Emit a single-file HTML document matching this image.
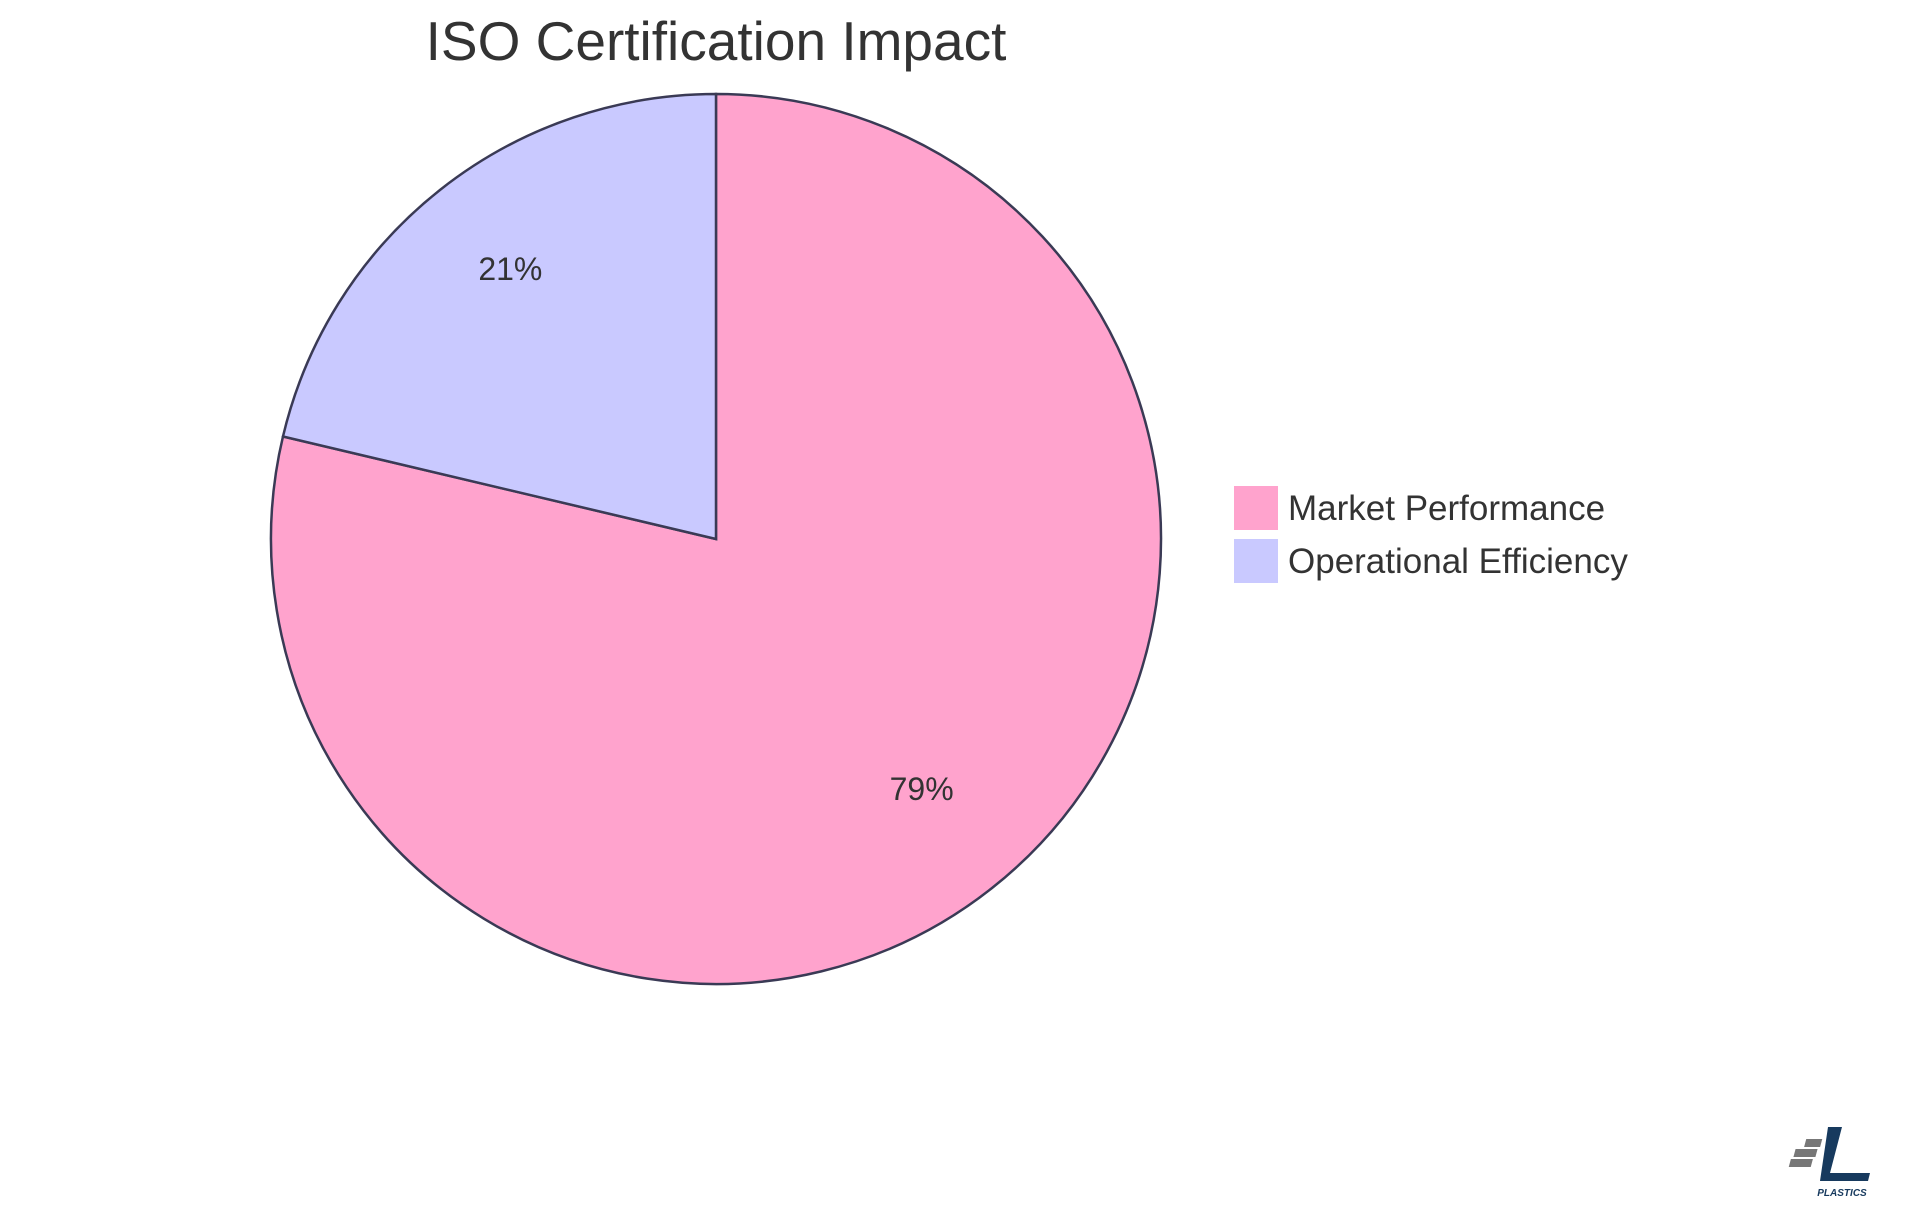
<!DOCTYPE html>
<html><head><meta charset="utf-8"><style>
html,body{margin:0;padding:0;background:#fff;}
svg{display:block;font-family:"Liberation Sans",sans-serif;}
</style></head><body>
<svg id="chart" width="1920" height="1215" viewBox="0 0 1920 1215">
<text x="716" y="60" text-anchor="middle" font-size="55" fill="#333">ISO Certification Impact</text>
<g id="slices"></g>
<g id="labels"></g>
<g id="legend"></g>
<g transform="translate(1800,1125)">
<path d="M28 2 L42 2 L30 48 L70 48 L68 56 L20 56 Z" fill="#173a5e"/>
<rect x="2" y="24" width="22" height="8" fill="#777" transform="skewX(-15)"/>
<rect x="0" y="34" width="22" height="8" fill="#777" transform="skewX(-15)"/>
<rect x="10" y="14" width="16" height="8" fill="#777" transform="skewX(-15)"/>
<text x="42" y="71" font-size="10" font-weight="bold" font-style="italic" fill="#173a5e" text-anchor="middle">PLASTICS</text>
</g>
</svg>
<script>
const categories = ["Market Performance", "Operational Efficiency"];
const values = [78.7, 21.3];
const colors = ["#FFA3CD", "#C9C9FF"];
const cx = 716, cy = 539, r = 445;
const ns = "http://www.w3.org/2000/svg";
const total = values.reduce((a,b)=>a+b,0);
const slicesG = document.getElementById("slices");
const labelsG = document.getElementById("labels");
const legendG = document.getElementById("legend");
function pt(angle, rad){ return [cx + rad*Math.sin(angle), cy - rad*Math.cos(angle)]; }
let a0 = 0;
values.forEach((v,i)=>{
  const a1 = a0 + v/total*2*Math.PI;
  const [x0,y0] = pt(a0,r), [x1,y1] = pt(a1,r);
  const large = (a1-a0) > Math.PI ? 1 : 0;
  const p = document.createElementNS(ns,"path");
  p.setAttribute("d",`M${cx},${cy} L${x0},${y0} A${r},${r} 0 ${large} 1 ${x1},${y1} Z`);
  p.setAttribute("fill",colors[i]);
  p.setAttribute("stroke","#3a3a55");
  p.setAttribute("stroke-width","2.5");
  
  
  slicesG.appendChild(p);
  const am = (a0+a1)/2;
  const [lx,ly] = pt(am, r*0.745);
  const t = document.createElementNS(ns,"text");
  t.setAttribute("x",lx); t.setAttribute("y",ly+1);
  t.setAttribute("text-anchor","middle");
  t.setAttribute("font-size","32"); t.setAttribute("fill","#333");
  t.textContent = Math.round(v/total*100) + "%";
  
  
  labelsG.appendChild(t);
  const ly0 = 486 + i*53;
  const sq = document.createElementNS(ns,"rect");
  sq.setAttribute("x",1234); sq.setAttribute("y",ly0);
  sq.setAttribute("width",44); sq.setAttribute("height",44);
  sq.setAttribute("fill",colors[i]);
  
  
  legendG.appendChild(sq);
  const lt = document.createElementNS(ns,"text");
  lt.setAttribute("x",1288); lt.setAttribute("y",ly0+34);
  lt.setAttribute("font-size","35"); lt.setAttribute("fill","#333");
  lt.textContent = categories[i];
  
  
  legendG.appendChild(lt);
  a0 = a1;
});
</script>
</body></html>
